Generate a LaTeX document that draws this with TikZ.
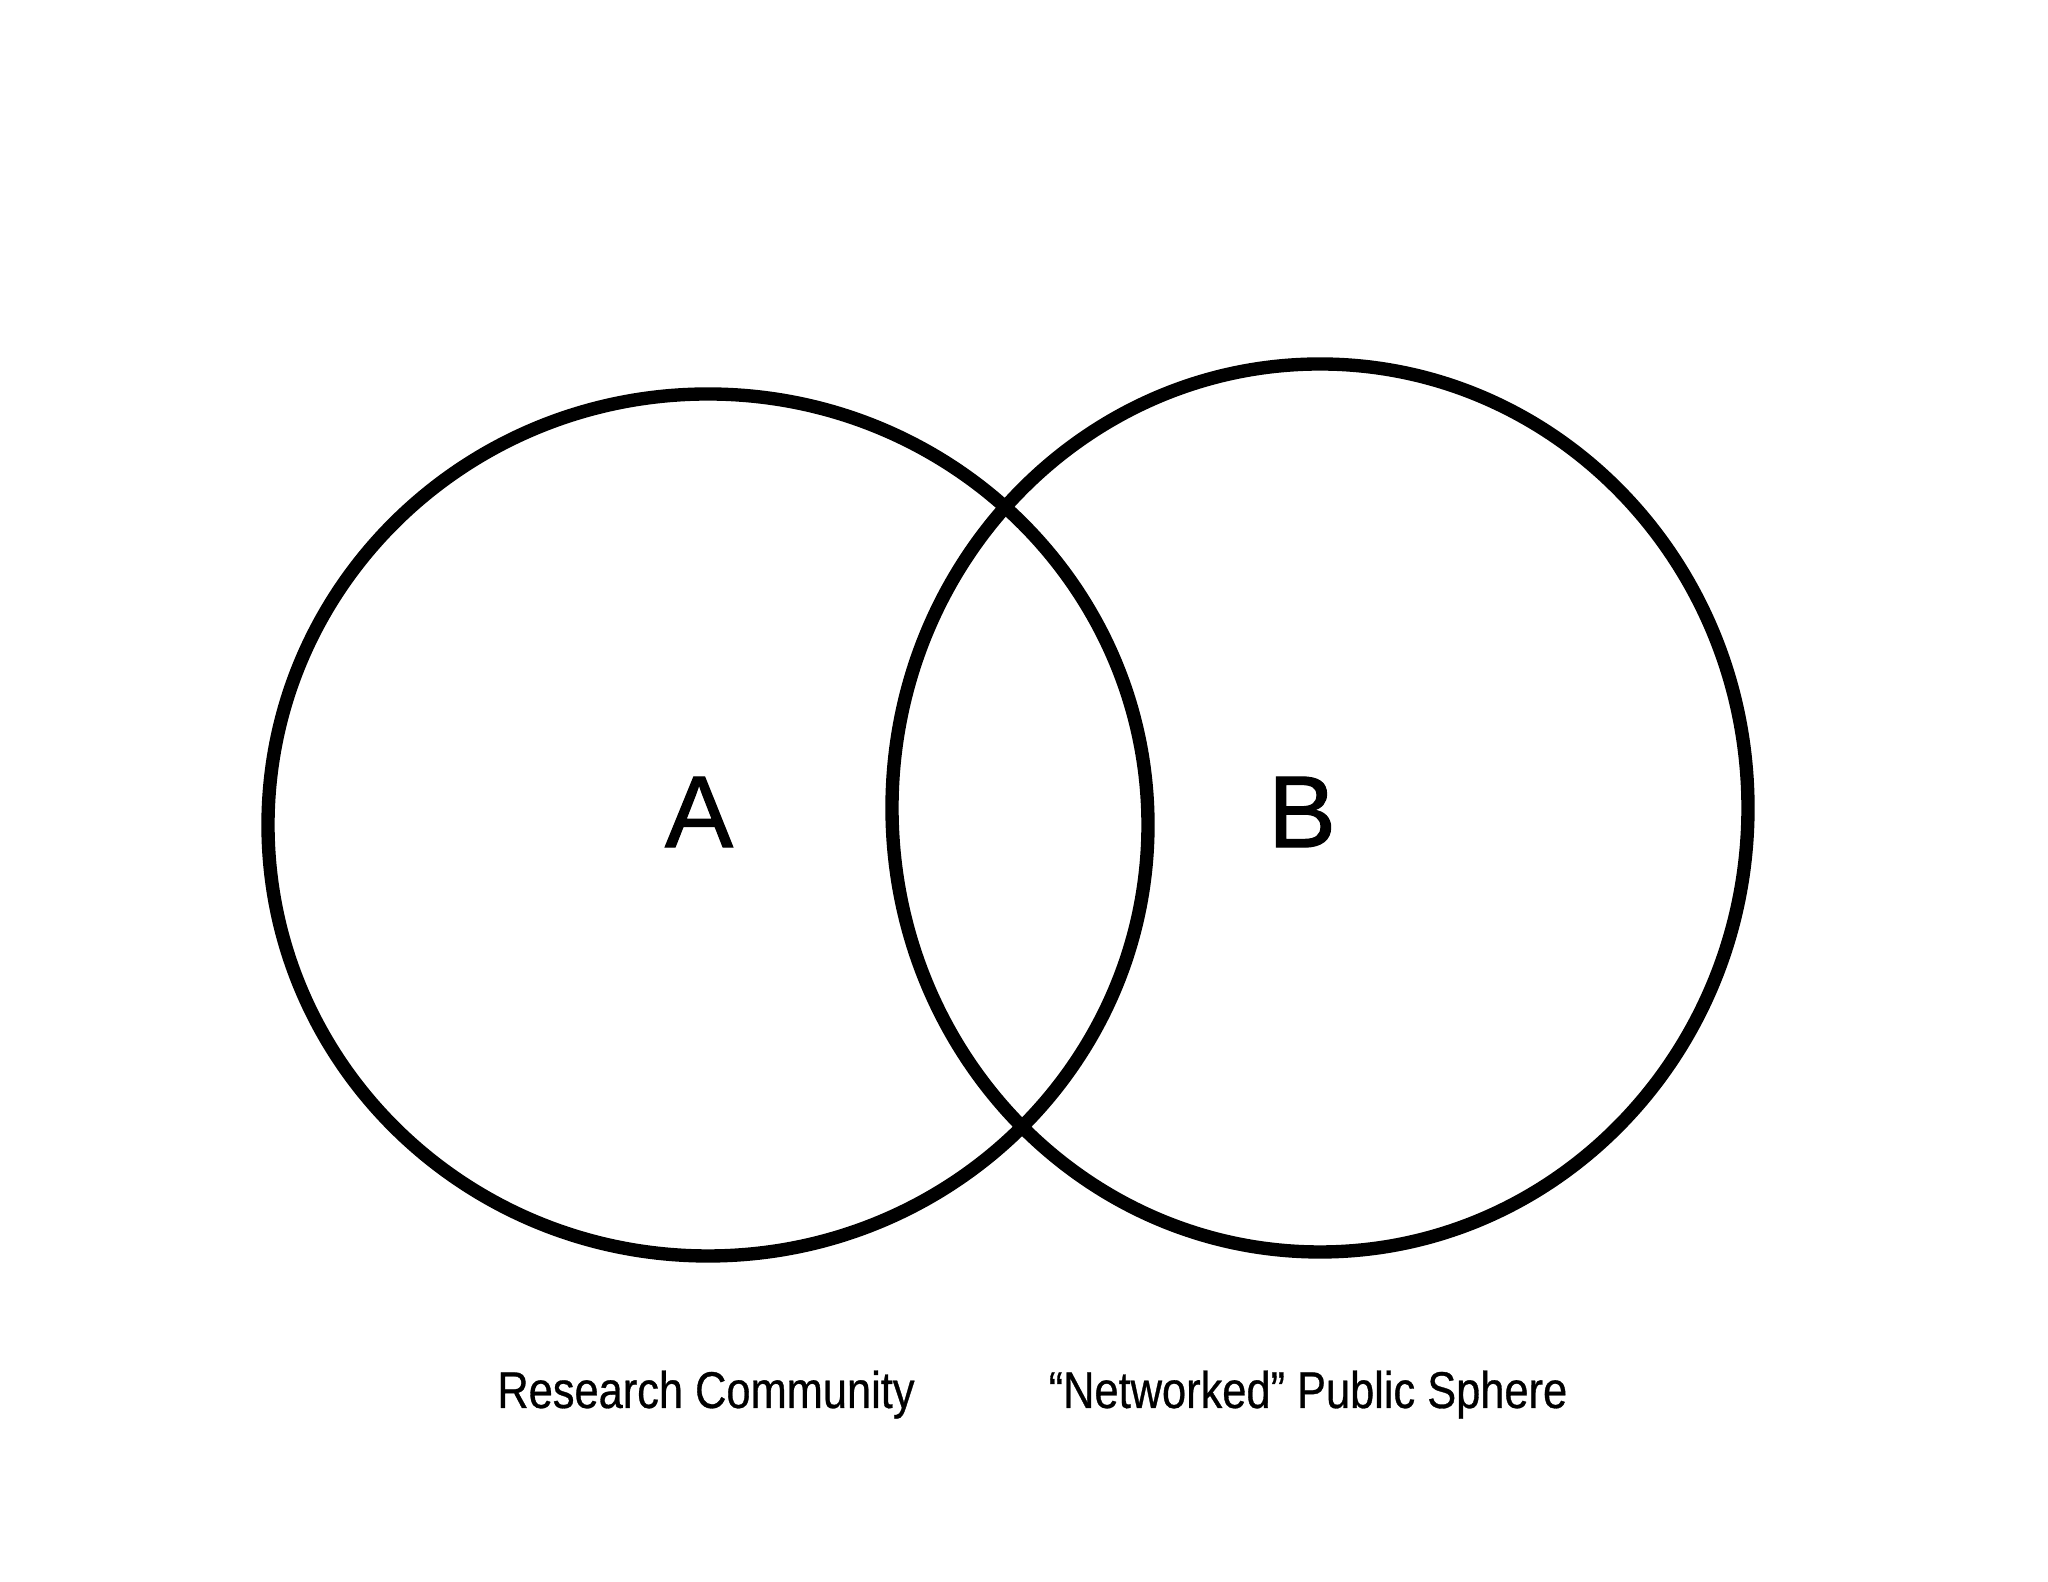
\documentclass[tikz,border=0pt]{standalone}
\usepackage{fontspec}
\setmainfont{Liberation Sans}
\newfontfamily\narrowfont[FakeStretch=0.84,FakeBold=0.6]{Liberation Sans}
\newfontfamily\letterfont[FakeBold=1.2]{Liberation Sans}
\usetikzlibrary{positioning}

\tikzset{
  ring/.style={line width=3.8pt},
  setletter/.style={font=\letterfont\fontsize{29}{29}\selectfont},
  setcaption/.style={font=\narrowfont\fontsize{14.7}{14.7}\selectfont, anchor=base},
}

\begin{document}
\begin{tikzpicture}

\useasboundingbox (0,0) rectangle (20.48,15.82);

% Draw the two sets
\draw[ring] (7.08,7.57) ellipse [x radius=4.40, y radius=4.31];
\draw[ring] (13.20,7.74) ellipse [x radius=4.28, y radius=4.44];

\node[setletter] (letA) at (6.99, 7.70) {A};
\node[setletter] (letB) at (13.02, 7.70) {B};

% captions under the sets
\node[setcaption] (capA) at (7.06, 1.74) {Research Community};
\node[setcaption] (capB) at (13.08, 1.74) {“Networked” Public Sphere};

\end{tikzpicture}
\end{document}
